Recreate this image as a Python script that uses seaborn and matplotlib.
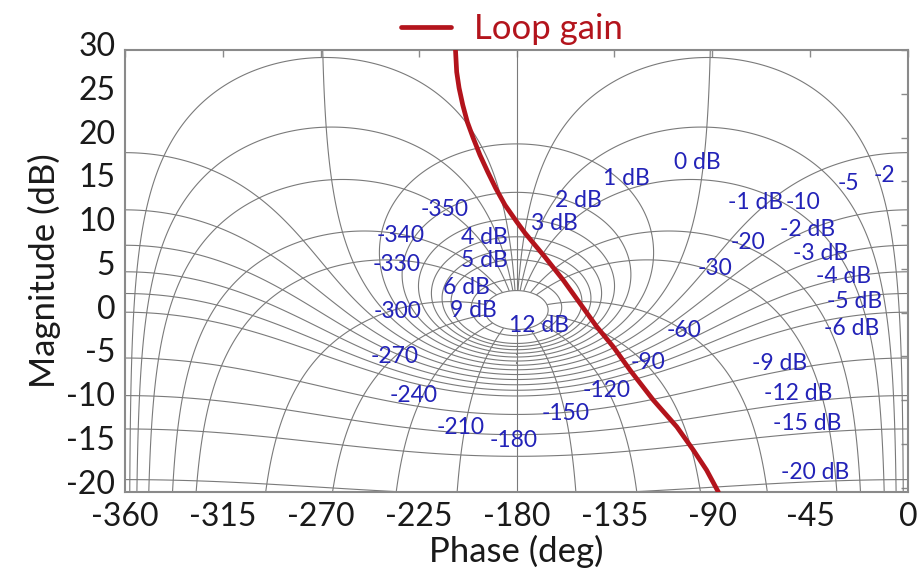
import numpy as np
import pandas as pd
import matplotlib
matplotlib.use("Agg")
import matplotlib.pyplot as plt
import matplotlib.transforms as mtransforms
import seaborn as sns

# ---------------- data ----------------
loop_phase = [-208.05, -207.5, -206.4, -204.7, -202.6, -199.9, -196.8, -193.2,
              -189.6, -185.3, -179.8, -176.1, -166.9, -158.5, -150.8, -143.1,
              -135.5, -127.8, -117.1, -106.3, -98.7, -92.6, -87.2]
loop_mag = [30.0, 27.49, 25.66, 23.71, 21.77, 19.94, 18.0, 16.06,
            14.23, 12.29, 10.34, 9.09, 6.34, 3.71, 1.05, -1.62,
            -3.91, -6.57, -10.0, -13.05, -15.71, -18.0, -20.5]

mag_levels = [12, 9, 6, 5, 4, 3, 2, 1, 0, -1, -2, -3, -4, -5, -6, -9, -12, -15, -20]
phase_levels_right = [-2, -5, -10, -20, -30, -60, -90, -120, -150]
phase_levels_left = [-210, -240, -270, -300, -330, -340, -350, -355, -358]

x_ticks = [-360, -315, -270, -225, -180, -135, -90, -45, 0]
y_ticks = [-20, -15, -10, -5, 0, 5, 10, 15, 20, 25, 30]

grid_labels = ["0 dB", "1 dB", "2 dB", "3 dB", "4 dB", "5 dB", "6 dB", "9 dB", "12 dB",
               "-350", "-340", "-330", "-300", "-270", "-240", "-210", "-180",
               "-150", "-120", "-90", "-60", "-30", "-20", "-1 dB", "-10",
               "-2 dB", "-3 dB", "-4 dB", "-5 dB", "-6 dB", "-5", "-2",
               "-9 dB", "-12 dB", "-15 dB", "-20 dB"]
grid_label_x = [-97.0, -129.7, -151.7, -162.8, -194.9, -194.9, -202.8, -200.0, -169.7,
                -213.0, -233.1, -234.9, -234.5, -235.9, -227.1, -205.5, -181.1,
                -157.2, -138.4, -119.5, -103.0, -88.7, -73.6, -69.9, -48.3,
                -46.4, -40.0, -29.4, -24.4, -25.7, -27.6, -11.0,
                -58.9, -50.6, -46.4, -42.8]
grid_label_y = [17.09, 15.37, 12.86, 10.23, 8.63, 6.0, 2.91, 0.29, -1.43,
                11.83, 8.86, 5.54, 0.17, -4.97, -9.43, -13.09, -14.57,
                -11.49, -8.86, -5.66, -2.0, 5.09, 8.06, 12.63, 12.63,
                9.54, 6.8, 4.17, 1.31, -1.77, 14.8, 15.71,
                -5.77, -9.2, -12.63, -18.23]

# ---------------- style ----------------
sns.set_theme(style="white")
plt.rcParams["font.family"] = ["Lato", "DejaVu Sans"]
plt.rcParams["axes.unicode_minus"] = False

grid_color = "#7a7a7a"
frame_color = "#8a8a8a"
curve_color = "#b3141c"
label_color = "#2323b8"
text_color = "#1a1a1a"

fig = plt.figure(figsize=(9.24, 5.76), dpi=100)
ax = fig.add_axes([125 / 924, 1 - 492 / 576, 783 / 924, 442 / 576])

xlim = (-360, 0)
ylim = (-20.5, 30)

# ---------------- Nichols grid (computed) ----------------
ph = np.linspace(-360, 0, 1440)
mg = np.linspace(-21.5, 31.5, 1060)
P, MG = np.meshgrid(ph, mg)
G = 10 ** (MG / 20) * np.exp(1j * np.deg2rad(P))
T = G / (1 + G)
Tdb = 20 * np.log10(np.abs(T))
ang = np.degrees(np.angle(T))
ang = np.where(ang > 0, ang - 360, ang)

gkw = dict(colors=grid_color, linewidths=0.8, linestyles="solid")
ax.contour(P, MG, Tdb, levels=sorted(mag_levels), **gkw)

inner = Tdb > max(mag_levels)
ang_r = np.ma.masked_where((P < -180) | inner, ang)
ang_l = np.ma.masked_where((P > -180) | inner, ang)
ang_c = np.ma.masked_where(inner, ang)
ax.contour(P, MG, ang_r, levels=sorted(phase_levels_right), **gkw)
ax.contour(P, MG, ang_l, levels=sorted(phase_levels_left), **gkw)
ax.contour(P, MG, ang_c, levels=[-180], **gkw)

for t, x, y in zip(grid_labels, grid_label_x, grid_label_y):
    ax.text(x, y, t, color=label_color, fontsize=16.5, ha="center", va="center",
            zorder=4)

# ---------------- loop gain curve ----------------
df = pd.DataFrame({"Phase": loop_phase, "Magnitude": loop_mag})
sns.lineplot(data=df, x="Phase", y="Magnitude", sort=False, color=curve_color,
             linewidth=3.4, ax=ax, zorder=5, legend=False)

# ---------------- axes ----------------
ax.set_xlim(*xlim)
ax.set_ylim(*ylim)
ax.set_xticks(x_ticks)
ax.set_yticks(y_ticks)
ax.set_xticklabels([str(v) for v in x_ticks])
ax.set_yticklabels([str(v) for v in y_ticks])
ax.tick_params(direction="in", length=5, width=1, color=frame_color,
               top=True, right=True, labelsize=23, labelcolor=text_color, pad=7)
for s in ax.spines.values():
    s.set_color(frame_color)
    s.set_linewidth(1.5)
ax.set_xlabel("Phase (deg)", fontsize=25, color=text_color, labelpad=2)
ax.set_ylabel("Magnitude (dB)", fontsize=25, color=text_color, labelpad=4)

off = mtransforms.ScaledTranslation(0, 6 / 100, fig.dpi_scale_trans)
for lab in ax.get_yticklabels():
    lab.set_transform(lab.get_transform() + off)

h = ax.get_lines()[-1]
fig.legend([h], ["Loop gain"], loc="center left",
           bbox_to_anchor=(401 / 924, 1 - 29 / 576), frameon=False,
           fontsize=25, handlelength=1.45, handletextpad=0.66, borderpad=0,
           borderaxespad=0, labelcolor=curve_color)

fig.savefig("out.png", dpi=100)
